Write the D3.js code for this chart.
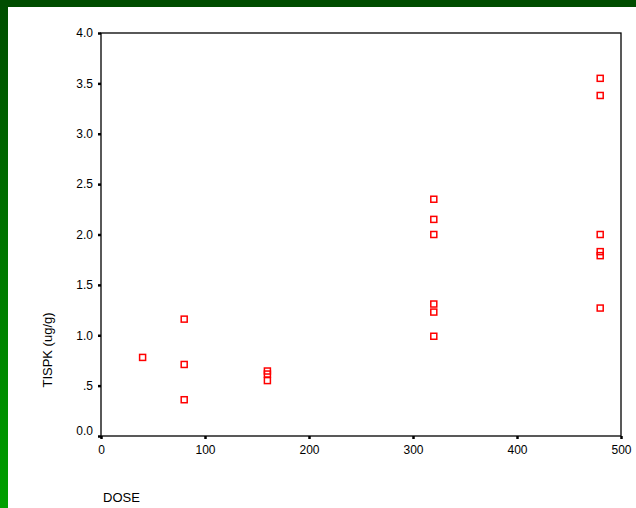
<!DOCTYPE html>
<html><head><meta charset="utf-8">
<script src="https://cdn.jsdelivr.net/npm/d3@7"></script>
<style>body{margin:0;background:#fff}svg{display:block}</style>
</head><body>
<script>
const doseValues = [40, 80, 80, 80, 160, 160, 160, 320, 320, 320, 320, 320, 320, 480, 480, 480, 480, 480, 480];
const tispkValues = [0.78, 1.16, 0.71, 0.36, 0.645, 0.615, 0.55, 2.35, 2.15, 2.0, 1.31, 1.23, 0.99, 3.55, 3.38, 2.0, 1.83, 1.79, 1.27];
const xTicks = [0, 100, 200, 300, 400, 500];
const yTicks = [0, 0.5, 1.0, 1.5, 2.0, 2.5, 3.0, 3.5, 4.0];
const yTickLabels = ["0.0", ".5", "1.0", "1.5", "2.0", "2.5", "3.0", "3.5", "4.0"];
const xTitle = "DOSE", yTitle = "TISPK (ug/g)";

const W = 636, H = 508;
const svg = d3.select("body").append("svg").attr("width", W).attr("height", H);
const defs = svg.append("defs");
const g = defs.append("linearGradient").attr("id", "lg").attr("x1", 0).attr("y1", 0).attr("x2", 0).attr("y2", 1);
g.append("stop").attr("offset", "0%").attr("stop-color", "#004d00");
g.append("stop").attr("offset", "100%").attr("stop-color", "#00a000");
svg.append("rect").attr("width", W).attr("height", H).attr("fill", "#fff");
svg.append("rect").attr("x", 0).attr("y", 0).attr("width", 8).attr("height", H).attr("fill", "url(#lg)");
svg.append("rect").attr("x", 0).attr("y", 0).attr("width", W).attr("height", 7).attr("fill", "#004d00");

const L = 101, R = 621, T = 33, B = 436;
const x = d3.scaleLinear().domain([0, 500]).range([L, R]);
const y = d3.scaleLinear().domain([0, 4]).range([B, T]);

// frame
svg.append("rect").attr("x", L).attr("y", T).attr("width", R - L).attr("height", B - T)
  .attr("fill", "none").attr("stroke", "#000").attr("stroke-width", 1.3);

const font = "Liberation Sans, Arial, sans-serif";
const xa = svg.append("g").attr("transform", `translate(0,${B})`)
  .call(d3.axisBottom(x).tickValues(xTicks).tickSize(3).tickSizeOuter(0).tickPadding(6));
xa.select(".domain").remove();
xa.selectAll(".tick line").attr("stroke-width", 2.5);
xa.selectAll("text").attr("font-family", font).attr("font-size", 12).attr("fill", "#000");

const ya = svg.append("g").attr("transform", `translate(${L},0)`)
  .call(d3.axisLeft(y).tickValues(yTicks).tickFormat((d, i) => yTickLabels[i]).tickSize(3).tickSizeOuter(0).tickPadding(5));
ya.select(".domain").remove();
ya.selectAll(".tick line").attr("stroke-width", 2.5);
ya.selectAll("text").attr("font-family", font).attr("font-size", 12).attr("fill", "#000");
ya.selectAll(".tick").filter(d => d === 0).select("text").attr("dy", "-0.1em");

svg.append("text").attr("x", 103).attr("y", 502).attr("font-family", font).attr("font-size", 13)
  .attr("fill", "#000").text(xTitle);
svg.append("text").attr("transform", "translate(52,350) rotate(-90)").attr("text-anchor", "middle")
  .attr("font-family", font).attr("font-size", 13).attr("fill", "#000").text(yTitle);

svg.append("g").selectAll("rect").data(doseValues).join("rect")
  .attr("x", (d) => x(d) - 3).attr("y", (d, i) => y(tispkValues[i]) - 3)
  .attr("width", 6).attr("height", 6)
  .attr("fill", "none").attr("stroke", "#ff0000").attr("stroke-width", 1.5);
</script>
</body></html>
